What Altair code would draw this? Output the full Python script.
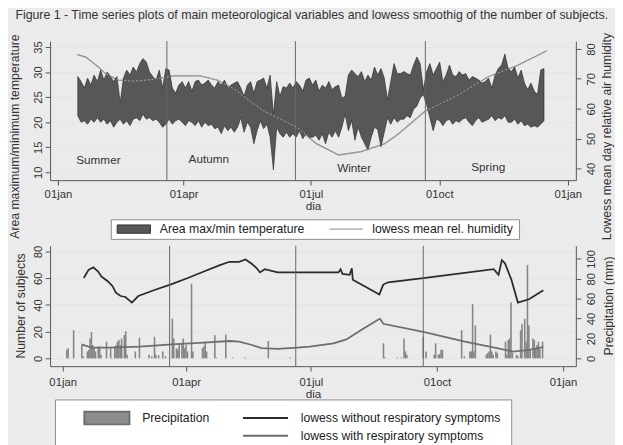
import altair as alt
import pandas as pd

FONT = "Liberation Sans"
BASE = pd.Timestamp("2009-01-01")


def iso(day):
    return (BASE + pd.to_timedelta(day, unit="D")).strftime("%Y-%m-%dT%H:%M:%S")


# ---------------- data ----------------
# daily max / min temperature (deg C), one reading every 56 h from 15 Jan
TEMP_START = "2009-01-15T06:00:00"
TMAX = [
    29.1, 28.1, 26.8, 28.8, 27.4, 29.4, 28.1, 30.4, 28.4, 30.0,
    29.1, 28.1, 29.1, 23.9, 28.8, 30.4, 29.4, 31.0, 30.0, 31.7,
    32.7, 32.0, 30.0, 29.1, 28.4, 30.4, 26.8, 30.7, 30.4, 26.8,
    25.8, 27.4, 28.1, 26.8, 28.1, 26.2, 28.1, 28.4, 27.4, 27.8,
    28.4, 27.4, 26.8, 28.1, 27.4, 28.4, 26.8, 27.4, 27.8,
    28.1, 26.8, 25.2, 27.4, 28.1, 25.8, 28.1, 28.4, 28.8, 26.8,
    29.4, 21.5, 28.1, 25.2, 27.1, 26.8, 27.8, 26.8, 28.1, 27.4,
    26.2, 28.4, 28.8, 27.4, 28.4, 26.2, 27.4, 26.8, 28.1, 26.5,
    27.1, 27.4, 24.8, 25.2, 29.4, 30.4, 29.7, 29.1, 30.1, 28.1,
    29.4, 28.4, 31.0, 29.4, 30.7, 28.8, 24.5, 28.1, 31.7,
    29.7, 29.7, 30.1, 29.7, 29.4, 31.4, 33.0, 31.7, 26.5, 30.1,
    31.7, 29.4, 30.7, 32.0, 28.1, 29.4, 31.4, 29.4, 29.1, 30.1,
    29.4, 29.7, 28.4, 29.1, 28.8, 28.4, 27.8, 28.1, 28.8, 26.8,
    29.4, 30.7, 31.4, 33.6, 30.7, 30.1, 31.0, 28.8, 30.4, 27.8,
    26.5, 27.8, 26.2, 25.5, 30.4, 30.7,
]
TMIN = [
    21.3, 20.0, 20.3, 19.6, 20.6, 20.0, 20.9, 20.0, 20.6, 19.6,
    20.3, 19.0, 20.0, 20.6, 19.6, 20.3, 19.3, 20.6, 20.9, 20.3,
    21.6, 20.6, 20.9, 20.3, 20.6, 20.0, 19.0, 19.6, 20.6, 19.6,
    20.3, 20.6, 20.0, 19.3, 20.3, 20.0, 19.3, 20.3, 19.0, 20.0,
    19.3, 19.6, 18.7, 19.0, 17.7, 19.3, 18.3, 19.0, 18.0,
    19.0, 20.9, 18.0, 20.0, 19.0, 15.7, 18.3, 20.3, 18.7, 19.6,
    17.0, 10.5, 19.0, 17.7, 17.0, 18.0, 17.0, 17.7, 17.0, 18.3,
    16.7, 17.7, 17.0, 17.0, 17.4, 16.4, 17.7, 15.7, 18.0, 17.0,
    18.3, 17.0, 19.0, 21.6, 18.3, 20.3, 16.4, 19.0, 17.0, 15.7,
    14.4, 17.0, 19.0, 18.5, 15.1, 18.0, 20.9, 19.6, 20.9,
    20.0, 20.6, 20.6, 21.3, 20.9, 22.6, 23.2, 24.8, 25.5, 23.5,
    20.9, 18.3, 20.6, 20.3, 19.3, 20.3, 20.6, 19.6, 20.3, 20.0,
    20.6, 20.9, 20.0, 19.3, 20.3, 20.9, 20.0, 20.3, 20.6, 21.3,
    20.3, 20.9, 20.6, 21.3, 20.0, 20.0, 20.6, 19.6, 20.3, 19.3,
    19.6, 19.0, 19.3, 19.0, 19.6, 20.3,
]

# lowess mean relative humidity (%)
HUM_DAY = [14, 20, 29, 34, 43, 55, 68, 83, 102, 114, 125, 147, 171, 185,
           201, 217, 234, 243, 263, 287, 308, 329, 350]
HUM_VAL = [78.1, 77.3, 74.0, 71.8, 69.6, 69.2, 69.8, 71.0, 71.0, 69.6, 66.9,
           59.3, 53.8, 48.3, 44.5, 45.6, 48.3, 51.3, 59.2, 64.7, 70.7, 74.5, 79.4]

# lowess number of subjects without respiratory symptoms
NO_DAY = [15.4, 18.9, 22.4, 25.9, 28.2, 32.9, 36.4, 38.8, 42.3, 45.8,
          50.5, 55.2, 68.0, 78.5, 91.3, 103.0, 114.7, 121.7, 128.7, 133.4,
          138.1, 141.6, 143.9, 147.4, 156.8, 180.1, 201.1, 202.7, 204.1, 209.3,
          210.9, 211.6, 231.0, 233.8, 237.4, 263.0, 314.4, 317.9, 320.3, 322.6,
          327.3, 332.0, 340.1, 350.6]
NO_VAL = [60.2, 66.3, 68.3, 65.1, 61.4, 57.8, 54.1, 49.2, 46.7, 46.0,
          41.8, 46.7, 51.6, 55.3, 60.2, 65.1, 69.9, 72.4, 72.4, 74.1,
          70.7, 67.5, 64.4, 66.8, 64.4, 64.4, 64.4, 66.8, 63.3, 62.6,
          67.5, 58.9, 47.9, 55.3, 57.0, 60.2, 66.8, 62.6, 73.6, 71.2,
          58.9, 41.8, 44.3, 51.1]

# lowess number of subjects with respiratory symptoms
WI_DAY = [13.8, 16.6, 21.2, 32.9, 56.3, 79.7, 103.0, 121.7, 128.7, 138.1,
          145.1, 156.8, 170.8, 180.1, 197.6, 206.9, 218.6, 230.3, 231.5, 233.8,
          263.0, 293.4, 316.7, 328.5, 340.1, 350.6]
WI_VAL = [10.5, 9.5, 8.1, 8.1, 8.8, 10.5, 11.7, 13.0, 12.5, 10.0,
          7.6, 7.1, 8.1, 8.8, 11.2, 14.2, 21.8, 29.1, 29.6, 25.9,
          19.8, 12.5, 7.6, 5.1, 6.4, 8.5]

# daily precipitation (mm)
PRECIP_DAY = [3, 4, 8, 14, 15, 18, 19, 20, 21, 22, 23, 24, 26, 27, 28, 32, 35,
              38, 39, 40, 41, 42, 43, 45, 46, 47, 53, 56, 63, 65, 67, 68, 70,
              73, 75, 80, 81, 83, 84, 85, 87, 88, 89, 90, 91, 94, 95, 102, 103,
              104, 105, 111, 112, 119, 124, 133, 150, 166,
              234, 235, 244, 247, 249, 250, 251, 263, 265, 271, 272, 274, 275,
              276, 277, 291, 293, 297, 298, 299, 300, 301, 309, 310, 311, 312,
              313, 314, 316, 317, 323, 324, 325, 326, 327, 328, 331, 332, 334,
              335, 337, 338, 339, 340, 341, 343, 344, 345, 346, 347, 348, 350]
PRECIP_MM = [8.5, 10.2, 28.2, 13.4, 2.0, 6.9, 8.5, 20.0, 26.5, 13.4, 10.2, 6.9,
             11.8, 11.8, 3.6, 16.7, 10.2, 10.2, 13.4, 16.7, 18.4, 13.4, 20.0,
             23.3, 27.2, 3.6, 6.9, 20.6, 3.6, 2.0, 21.6, 3.6, 3.0, 6.9, 2.0,
             39.7, 20.0, 10.2, 8.5, 13.4, 15.1, 20.0, 10.2, 13.4, 6.9, 75.0,
             6.9, 10.2, 11.8, 16.7, 6.9, 23.3, 0.8, 23.9, 0.8, 0.8, 17.4, 0.8,
             15.1, 1.0, 0.8, 0.8, 20.0, 6.9, 3.6, 21.6, 6.9, 3.6, 15.1, 3.6,
             4.3, 8.5, 8.5, 28.2, 2.0, 6.9, 6.9, 54.4, 6.9, 33.1, 3.6, 5.3,
             6.9, 23.9, 6.9, 3.6, 6.9, 5.3, 16.7, 3.6, 18.4, 20.0, 56.0, 5.3,
             3.6, 2.0, 28.2, 34.7, 39.7, 16.7, 93.7, 33.1, 8.5, 20.0, 18.4,
             10.2, 13.4, 16.7, 10.2, 16.7]

SEASONS = ["Summer", "Autumn", "Winter", "Spring"]
SEASON_DAY = [29, 108, 212, 308]
SEASON_TEMP = [12.5, 12.7, 10.8, 11.0]
BREAK_DAY = [78, 170, 263]

TICK_DATES = [(2009, 1), (2009, 4), (2009, 7), (2009, 10), (2010, 1)]

TOP_LEGEND = ["Area max/min temperature", "lowess  mean rel. humidity"]
BOT_LEGEND = ["Precipitation", "lowess without respiratory symptoms" + " " * 14, " ",
              "lowess with respiratory symptoms"]

TITLE = ("Figure 1 - Time series plots of main meteorological variables and "
         "lowess smoothig of the number of subjects.")

# ---------------- frames ----------------
temp_df = pd.DataFrame({
    "date": pd.date_range(TEMP_START, periods=len(TMAX), freq="56h").strftime("%Y-%m-%dT%H:%M:%S"),
    "tmax": TMAX, "tmin": TMIN})
hum_df = pd.DataFrame({"date": [iso(d) for d in HUM_DAY], "hum": HUM_VAL})
no_df = pd.DataFrame({"date": [iso(d) for d in NO_DAY], "v": NO_VAL})
wi_df = pd.DataFrame({"date": [iso(d) for d in WI_DAY], "v": WI_VAL})
pr_df = pd.DataFrame({"date": [iso(d) for d in PRECIP_DAY], "mm": PRECIP_MM})
season_df = pd.DataFrame({"date": [iso(d) for d in SEASON_DAY], "t": SEASON_TEMP, "name": SEASONS})
break_df = pd.DataFrame({"date": [iso(d) for d in BREAK_DAY]})

# ---------------- shared styling ----------------
AX = dict(labelFont=FONT, titleFont=FONT, labelColor="#333333", titleColor="#333333",
          domainColor="#555555", tickColor="#555555", titleFontWeight="normal",
          labelFontSize=11.5, tickSize=5)

x_scale = alt.Scale(domain=[alt.DateTime(year=2008, month=12, date=26, hours=10),
                            alt.DateTime(year=2010, month=1, date=6, hours=17)])


def x_axis(label_pad, title_y):
    return alt.Axis(values=[alt.DateTime(year=y, month=m, date=1) for y, m in TICK_DATES],
                    labelExpr="lower(timeFormat(datum.value, '%d%b'))", grid=False,
                    labelPadding=label_pad, titleY=title_y, titleBaseline="middle",
                    titleFontSize=12, **AX)


X_TOP = x_axis(3.5, 25.5)
X_BOT = x_axis(5.5, 28)


def xenc(axis):
    return alt.X("date:T", scale=x_scale, axis=axis, title="dia")


def left_axis(values, title, tx, ty):
    return alt.Axis(orient="left", values=values, labelAngle=270, labelAlign="center",
                    labelBaseline="bottom", labelPadding=2, grid=True, gridColor="#e4e4e4",
                    title=title, titleAngle=270, titleX=tx, titleY=ty, titleAlign="center",
                    titleBaseline="middle", titleFontSize=12.5, **AX)


def right_axis(values, title, tx, ty):
    return alt.Axis(orient="right", values=values, labelAngle=270, labelAlign="center",
                    labelBaseline="top", labelPadding=5, grid=False,
                    title=title, titleAngle=270, titleX=tx, titleY=ty, titleAlign="center",
                    titleBaseline="middle", titleFontSize=12.5, **AX)


def legend_layer(names, fills, strokes, shapes, legend):
    src = alt.Data(values=[])
    return alt.Chart(src).mark_point(filled=True, opacity=1).encode(
        fill=alt.Fill("s:N", scale=alt.Scale(domain=names, range=fills), legend=legend),
        stroke=alt.Stroke("s:N", scale=alt.Scale(domain=names, range=strokes), legend=legend),
        shape=alt.Shape("s:N", scale=alt.Scale(domain=names, range=shapes), legend=legend),
    )


# ---------------- top panel ----------------
temp_scale = alt.Scale(domain=[8.44, 36.17], nice=False, zero=False)
hum_scale = alt.Scale(domain=[36.07, 82.62], nice=False, zero=False)
temp_axis = left_axis([10, 15, 20, 25, 30, 35], "Area maximum/minimum temperature", -36, 97)
hum_axis = right_axis([40, 50, 60, 70, 80], "Lowess mean day relative air humidity", 31, 97)

hum_under = alt.Chart(hum_df).mark_line(color="#8a8a8a", strokeWidth=1.3).encode(
    x=xenc(X_TOP), y=alt.Y("hum:Q", scale=hum_scale, axis=hum_axis))

area = alt.Chart(temp_df).mark_area(fill="#575757", stroke="#303030", strokeWidth=0.7).encode(
    x=xenc(X_TOP), y=alt.Y("tmax:Q", scale=temp_scale, axis=temp_axis), y2="tmin:Q")
rules_top = alt.Chart(break_df).mark_rule(color="#666666", strokeWidth=1).encode(x=xenc(X_TOP))
season_txt = alt.Chart(season_df).mark_text(font=FONT, fontSize=12, color="#333333").encode(
    x=xenc(X_TOP), y=alt.Y("t:Q", scale=temp_scale, axis=temp_axis), text="name:N")
temp_group = alt.layer(area, rules_top, season_txt)

hum_over = alt.Chart(hum_df).mark_line(color="#a8a8a8", strokeWidth=1, strokeDash=[2, 2]).encode(
    x=xenc(X_TOP), y=alt.Y("hum:Q", scale=hum_scale, axis=None))

top_leg = alt.Legend(title=None, orient="none", legendX=62, legendY=182, direction="horizontal",
                     fillColor="white", strokeColor="#8c8c8c", padding=2, symbolSize=1156,
                     symbolStrokeWidth=1, clipHeight=16, symbolOffset=4, labelOffset=9,
                     columnPadding=21, labelFontSize=12.5, labelFont=FONT, labelColor="#222222",
                     labelLimit=400)
top_legend = legend_layer(TOP_LEGEND, ["#575757", "#8a8a8a"], ["#303030", "#8a8a8a"],
                          ["M-1,-0.25H1V0.25H-1Z", "stroke"], top_leg)

top = alt.layer(hum_under, temp_group, hum_over, top_legend).resolve_scale(
    y="independent").properties(width=537, height=142)

# ---------------- bottom panel ----------------
subj_scale = alt.Scale(domain=[-5.87, 84.4], nice=False, zero=False)
pr_scale = alt.Scale(domain=[-7.87, 113.1], nice=False, zero=False)
subj_axis = left_axis([0, 20, 40, 60, 80], "Number of subjects", -30, 61)
pr_axis = right_axis([0, 20, 40, 60, 80, 100], "Precipitation (mm)", 33, 61)

bars = alt.Chart(pr_df).mark_bar(width=1.6, color="#858585").encode(
    x=xenc(X_BOT), y=alt.Y("mm:Q", scale=pr_scale, axis=pr_axis))
line_no = alt.Chart(no_df).mark_line(color="#2b2b2b", strokeWidth=1.8).encode(
    x=xenc(X_BOT), y=alt.Y("v:Q", scale=subj_scale, axis=subj_axis))
line_wi = alt.Chart(wi_df).mark_line(color="#6e6e6e", strokeWidth=1.8).encode(
    x=xenc(X_BOT), y=alt.Y("v:Q", scale=subj_scale, axis=subj_axis))
rules_bot = alt.Chart(break_df).mark_rule(color="#666666", strokeWidth=1).encode(x=xenc(X_BOT))
subj_group = alt.layer(line_no, line_wi, rules_bot)

bot_leg = alt.Legend(title=None, orient="none", legendX=5, legendY=157, direction="horizontal",
                     columns=2, fillColor="white", strokeColor="#8c8c8c", padding=10,
                     symbolSize=2116, symbolStrokeWidth=2, clipHeight=18, rowPadding=0,
                     symbolOffset=19, labelOffset=12, columnPadding=14, labelFontSize=12.5,
                     labelFont=FONT, labelColor="#222222", labelLimit=500)
bot_legend = legend_layer(BOT_LEGEND, ["#8c8c8c", "#2b2b2b", "transparent", "#6e6e6e"],
                          ["#6e6e6e", "#2b2b2b", "transparent", "#6e6e6e"],
                          ["M-1,-0.28H1V0.28H-1Z", "stroke", "stroke", "stroke"], bot_leg)

bottom = alt.layer(bars, subj_group, bot_legend).resolve_scale(
    y="independent").properties(width=537, height=123)

chart = alt.vconcat(top, bottom, spacing=5).resolve_scale(
    fill="independent", stroke="independent", shape="independent"
).resolve_legend(
    fill="independent", stroke="independent", shape="independent"
).properties(
    title=alt.TitleParams(TITLE, font=FONT, fontSize=12.6, fontWeight="normal",
                          color="#333333", anchor="middle", offset=11.5),
    padding={"top": -5, "left": 0, "right": 0, "bottom": 0}, background="#ebebeb",
).configure_view(fill="white", stroke=None)

chart.save("out.html", embed_options={"renderer": "svg", "actions": False})
